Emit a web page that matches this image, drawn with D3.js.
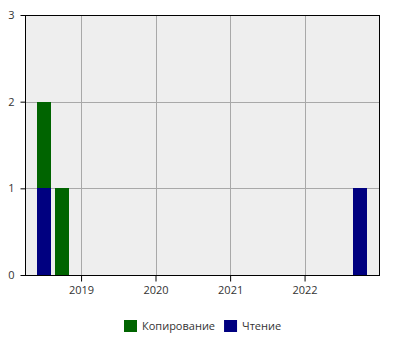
<!DOCTYPE html>
<html>
<head>
<meta charset="utf-8">
<script src="https://cdn.jsdelivr.net/npm/d3@7"></script>
<style>
  body { margin: 0; background: #fff; }
  text { font-family: "Open Sans", sans-serif; }
</style>
</head>
<body>
<div id="chart"></div>
<script>
// quarterly buckets
let periods = ["2018-07-01", "2018-10-01", "2022-10-01"];
let copying = [1, 1, 0];   // Копирование
let reading = [1, 0, 1];   // Чтение
let seriesNames = ["Копирование", "Чтение"];
let seriesColors = ["#006400", "#000080"];
let yTicks = [0, 1, 2, 3];
let xTicks = ["2019-01-01", "2020-01-01", "2021-01-01", "2022-01-01"];
let xDomain = ["2018-04-01", "2023-01-01"];

let width = 400, height = 350;
let margin = {top: 15.5, right: 20.5, bottom: 74.5, left: 25.5};
let plotW = width - margin.left - margin.right;
let plotH = height - margin.top - margin.bottom;
let parse = d3.utcParse("%Y-%m-%d");

let svg = d3.select("#chart").append("svg")
  .attr("width", width)
  .attr("height", height);

let g = svg.append("g").attr("transform", "translate(" + [margin.left, margin.top] + ")");

let x = d3.scaleUtc().domain(xDomain.map(parse)).range([0, plotW]);
let y = d3.scaleLinear().domain([0, 3]).range([plotH, 0]);

g.append("rect")
  .attr("width", plotW).attr("height", plotH)
  .attr("fill", "#eeeeee");

// grid (g is already offset by half a pixel)
g.selectAll(".vgrid").data(xTicks.map(parse)).enter().append("line")
  .attr("x1", d => Math.round(x(d))).attr("x2", d => Math.round(x(d)))
  .attr("y1", 0).attr("y2", plotH)
  .attr("stroke", "#a8a8a8");
g.selectAll(".hgrid").data(yTicks.slice(1, 3)).enter().append("line")
  .attr("x1", 0).attr("x2", plotW)
  .attr("y1", d => Math.round(y(d))).attr("y2", d => Math.round(y(d)))
  .attr("stroke", "#a8a8a8");

// stacked bars, Чтение at the bottom
let rows = periods.map((p, i) => ({date: parse(p), "Чтение": reading[i], "Копирование": copying[i]}));
let stack = d3.stack().keys(["Чтение", "Копирование"])(rows);
let barW = 14;
stack.forEach(layer => {
  let color = seriesColors[seriesNames.indexOf(layer.key)];
  g.selectAll(null).data(layer.filter(d => d[1] > d[0])).enter().append("rect")
    .attr("x", d => Math.round(x(d.data.date) - barW / 2) - 0.5)
    .attr("width", barW)
    .attr("y", d => Math.round(y(d[1])) - 0.5)
    .attr("height", d => Math.round(y(d[0])) - Math.round(y(d[1])))
    .attr("fill", color);
});

// frame
g.append("rect")
  .attr("width", plotW).attr("height", plotH)
  .attr("fill", "none").attr("stroke", "#000");

let xAxis = d3.axisBottom(x)
  .tickValues(xTicks.map(parse))
  .tickFormat(d3.utcFormat("%Y"))
  .tickSize(6).tickPadding(5).offset(0);
let gx = g.append("g").attr("transform", "translate(0," + plotH + ")").call(xAxis);
gx.select(".domain").remove();
gx.selectAll("line").attr("stroke", "#000");
gx.selectAll("text").attr("fill", "#333").style("font-size", "11px").style("font-family", "'Open Sans', sans-serif");

let yAxis = d3.axisLeft(y).tickValues(yTicks).tickFormat(d3.format("d")).tickSize(5).tickPadding(6).offset(0);
let gy = g.append("g").call(yAxis);
gy.select(".domain").remove();
gy.selectAll("line").attr("stroke", "#000");
gy.selectAll("text").attr("fill", "#333").style("font-size", "11px").style("font-family", "'Open Sans', sans-serif");

// legend
let legend = svg.append("g").attr("transform", "translate(124,320)");
let lx = 0;
seriesNames.forEach((name, i) => {
  let item = legend.append("g").attr("transform", "translate(" + lx + ",0)");
  item.append("rect").attr("width", 13).attr("height", 12).attr("fill", seriesColors[i]);
  let t = item.append("text").attr("x", 18).attr("y", 6).attr("dy", "0.35em")
    .attr("fill", "#333").style("font-size", "11px").text(name);
  lx += 18 + t.node().getComputedTextLength() + 9;
});
</script>
</body>
</html>
